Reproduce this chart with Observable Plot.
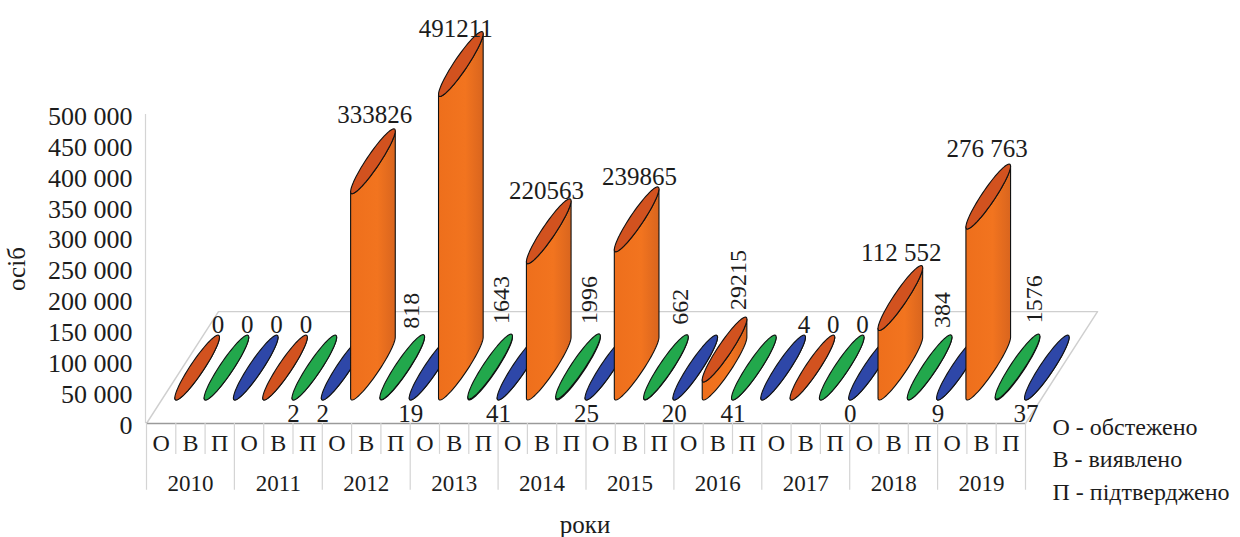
<!DOCTYPE html>
<html lang="uk">
<head>
<meta charset="utf-8">
<script src="https://cdn.jsdelivr.net/npm/d3@7"></script>
<script src="https://cdn.jsdelivr.net/npm/@observablehq/plot@0.6"></script>
<style>
  html, body { margin: 0; background: #fff; }
  svg { display: block; }
  svg text { font-family: "Liberation Serif", serif !important; }
</style>
</head>
<body>
<script>
// Обстежено, виявлено, підтверджено: кількість осіб за роками
const years = [2010, 2011, 2012, 2013, 2014, 2015, 2016, 2017, 2018, 2019];
const groups = ["О", "В", "П"];
const examined = [0, 0, 333826, 491211, 220563, 239865, 29215, 0, 112552, 276763];
const detected = [0, 2, 818, 1643, 1996, 662, 41, 0, 384, 1576];
const confirmed = [0, 2, 19, 41, 25, 20, 4, 0, 9, 37];
const examinedLabels = ["0", "0", "333826", "491211", "220563", "239865", "29215", "0", "112 552", "276 763"];
const yTicks = [0, 50000, 100000, 150000, 200000, 250000, 300000, 350000, 400000, 450000, 500000];
const legendLines = ["О - обстежено", "В - виявлено", "П - підтверджено"];

// Where each value's caption sits relative to its cylinder
const examinedPlacement = ["above", "above", "big", "big", "big", "big", "side", "above", "big", "big"];
const detectedPlacement = ["above", "below", "side", "side", "side", "side", "below", "above", "side", "side"];
const confirmedPlacement = ["above", "below", "below", "below", "below", "below", "above", "below", "below", "below"];

// Hand offsets in pixels for captions that would otherwise collide, keyed by slot
const captionNudge = {
  6: [-19, -14], 9: [-26, -3], 12: [-23, -8], 15: [-18, -10], 24: [-20, -13], 27: [-22, -15],
  7: [-12, -6], 10: [-10, -10], 13: [-10, -10], 16: [-7, -10], 18: [-7, -7], 25: [-8, -7], 28: [-4, -11]
};

const seriesStyle = [
  {cap: "#d2521f", body: "url(#orange-body)"},
  {cap: "#22a84c", body: "#22a84c"},
  {cap: "#2e47a8", body: "#2e47a8"}
];

// Oblique floor: moving from the front edge to the back edge shifts a point
// right and up, expressed in the units of the x and y scales.
const depthX = 2.457;
const depthY = 181000;
const barDepth = 0.5;   // cylinders stand halfway back
const halfLen = 0.29;   // half of the ellipse along the depth direction
const halfWide = 0.27;  // half of the ellipse across a slot

const rows = [examined, detected, confirmed];
const placements = [examinedPlacement, detectedPlacement, confirmedPlacement];
const bars = years.flatMap((year, yi) =>
  groups.map((group, gi) => ({
    year, group, gi,
    slot: yi * groups.length + gi,
    value: rows[gi][yi],
    text: gi === 0 ? examinedLabels[yi] : String(rows[gi][yi]),
    placement: placements[gi][yi]
  }))
);

const ellipsePoint = (bar, value, t) => ({
  x: bar.slot + 0.5 + depthX * barDepth + depthX * halfLen * Math.cos(t) + halfWide * Math.sin(t),
  y: value + depthY * barDepth + depthY * halfLen * Math.cos(t)
});
const tRight = Math.atan2(halfWide, depthX * halfLen);
const steps = d3.range(0, 41).map((i) => i / 40);

// Side of a cylinder: lower half of the base ellipse, then front half of the top one
const bodyPoints = (bar) => [
  ...steps.map((s) => ellipsePoint(bar, 0, tRight + Math.PI - s * Math.PI)),
  ...steps.map((s) => ellipsePoint(bar, bar.value, tRight + s * Math.PI))
];
const capPoints = (bar) => d3.range(0, 64).map((i) => ellipsePoint(bar, bar.value, (i / 64) * 2 * Math.PI));

const barMarks = bars.flatMap((bar) => [
  Plot.line(bodyPoints(bar), {
    x: "x", y: "y", curve: "linear-closed",
    fill: seriesStyle[bar.gi].body, stroke: "#111", strokeWidth: 1.1
  }),
  Plot.line(capPoints(bar), {
    x: "x", y: "y", curve: "linear-closed",
    fill: seriesStyle[bar.gi].cap, stroke: "#111", strokeWidth: 1.1
  })
]);

// Captions anchored on the far or near tip of the top ellipse
const tipFar = (bar) => ellipsePoint(bar, bar.value, 0);
const tipNear = (bar) => ellipsePoint(bar, 0, Math.PI);
const labelMarks = bars.map((bar) => {
  const p = bar.placement;
  const at = p === "below" ? tipNear(bar) : tipFar(bar);
  const base = {x: "x", y: "y", text: () => bar.text, fontSize: 25, fill: "#1c1c1c"};
  if (p === "side") {
    const [dx, dy] = captionNudge[bar.slot];
    return Plot.text([at], {...base, fontSize: 24, rotate: -90, textAnchor: "start", dx, dy});
  }
  if (p === "below") return Plot.text([at], {...base, dx: 0, dy: 14});
  if (p === "big") {
    const [dx, dy] = captionNudge[bar.slot];
    return Plot.text([at], {...base, dx, dy});
  }
  return Plot.text([at], {...base, dx: 0, dy: -10});
});

// Floor outline
const slots = bars.length;
const floor = [
  {x: 0, y: 0},
  {x: depthX, y: depthY},
  {x: slots + depthX, y: depthY},
  {x: slots, y: 0}
];

// Two-level category axis below the floor
const slotSeparators = d3.range(0, slots + 1).filter((i) => i % groups.length !== 0);
const yearSeparators = d3.range(0, slots + 1, groups.length);

const gradient = () => {
  const defs = d3.create("svg:defs");
  const g = defs.append("linearGradient").attr("id", "orange-body");
  g.append("stop").attr("offset", "0%").attr("stop-color", "#ee6f1c");
  g.append("stop").attr("offset", "60%").attr("stop-color", "#f2741f");
  g.append("stop").attr("offset", "100%").attr("stop-color", "#d9651e");
  return defs.node();
};

const chart = Plot.plot({
  width: 1240,
  height: 537,
  marginLeft: 146,
  marginRight: 215,
  marginTop: 114,
  marginBottom: 114,
  style: {fontSize: "22px", color: "#1c1c1c", background: "#fff", overflow: "visible"},
  x: {domain: [0, slots], axis: null},
  y: {domain: [0, 500000]},
  marks: [
    gradient,
    Plot.ruleX([0], {y1: 0, y2: 500000, stroke: "#d4d4d4", strokeWidth: 1.2, dx: -1}),
    Plot.axisY(yTicks, {
      tickSize: 0, tickPadding: 14, fontSize: 26, label: null, dy: 2,
      tickFormat: (d) => d3.format(",")(d).replace(",", " ")
    }),
    Plot.line(floor.slice(0, 2), {x: "x", y: "y", stroke: "#cfcfcf", strokeWidth: 1.4}),
    Plot.line(floor.slice(1, 3), {x: "x", y: "y", stroke: "#cfcfcf", strokeWidth: 1.4}),
    Plot.line(floor.slice(2, 4), {x: "x", y: "y", stroke: "#cfcfcf", strokeWidth: 1.4}),
    Plot.ruleY([0], {stroke: "#9a9a9a", strokeWidth: 1.4}),
    Plot.ruleX(slotSeparators, {y1: 0, y2: -50000, stroke: "#d4d4d4", strokeWidth: 1.2}),
    Plot.ruleX(yearSeparators, {y1: 0, y2: -108000, stroke: "#d4d4d4", strokeWidth: 1.2}),
    Plot.text(bars, {x: (d) => d.slot + 0.5, frameAnchor: "bottom", lineAnchor: "middle", dy: 20, text: "group", fontSize: 24}),
    Plot.text(years, {x: (d, i) => (i + 0.5) * groups.length, frameAnchor: "bottom", lineAnchor: "middle", dy: 60, text: String, fontSize: 23}),
    ...barMarks,
    ...labelMarks,
    Plot.text(["осіб"], {frameAnchor: "left", rotate: -90, dx: -130, dy: 22, fontSize: 25}),
    Plot.text(["роки"], {frameAnchor: "bottom", dy: 109, fontSize: 25, x: () => 14.97}),
    Plot.text([legendLines.join("\n")], {
      frameAnchor: "bottom-right", textAnchor: "start", lineAnchor: "top",
      lineHeight: 1.34, dx: 27, dy: -11, fontSize: 24
    })
  ]
});
document.body.appendChild(chart);
</script>
</body>
</html>
